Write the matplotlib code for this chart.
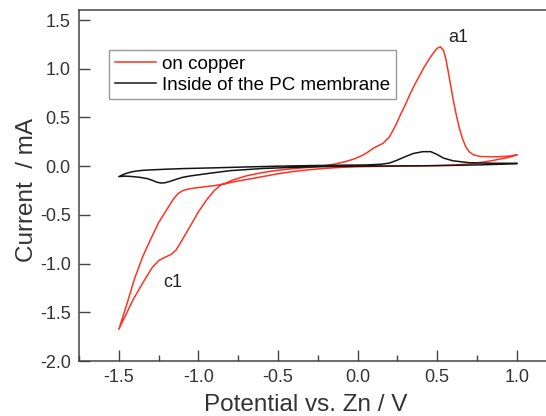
import matplotlib
matplotlib.use('Agg')
import matplotlib.pyplot as plt
from matplotlib.ticker import MultipleLocator

plt.rcParams['font.family'] = ['Liberation Sans', 'DejaVu Sans']
plt.rcParams['axes.unicode_minus'] = False

# on copper: cathodic sweep 1.0 -> -1.5, then anodic sweep -1.5 -> 1.0
copper_v = [1.00, 0.95, 0.90, 0.85, 0.80, 0.70, 0.60, 0.50, 0.40, 0.30, 0.20, 0.10,
            0.00, -0.10, -0.20, -0.30, -0.40, -0.50, -0.60, -0.70, -0.76, -0.83,
            -0.90, -0.97, -1.03, -1.07, -1.10, -1.13, -1.16, -1.20, -1.25, -1.30,
            -1.35, -1.40, -1.45, -1.50,
            -1.46, -1.41, -1.35, -1.29, -1.25, -1.21, -1.17, -1.14, -1.11, -1.06,
            -1.00, -0.95, -0.90, -0.86, -0.83, -0.78, -0.70, -0.60, -0.50, -0.40,
            -0.30, -0.22, -0.15, -0.08, -0.02, 0.03, 0.07, 0.10, 0.13, 0.16, 0.20,
            0.24, 0.27, 0.30, 0.33, 0.36, 0.39, 0.42, 0.45, 0.48, 0.50, 0.52, 0.54,
            0.555, 0.57, 0.585, 0.60, 0.62, 0.64, 0.66, 0.68, 0.70, 0.73, 0.77,
            0.82, 0.87, 0.92, 0.96, 1.00]
copper_i = [0.115, 0.090, 0.075, 0.058, 0.045, 0.022, 0.012, 0.006, 0.003, 0.001,
            -0.001, -0.003, -0.006, -0.012, -0.022, -0.036, -0.054, -0.078, -0.108,
            -0.138, -0.155, -0.18, -0.20, -0.213, -0.226, -0.237, -0.252, -0.285,
            -0.345, -0.45, -0.58, -0.75, -0.93, -1.15, -1.42, -1.675,
            -1.54, -1.37, -1.20, -1.04, -0.97, -0.935, -0.905, -0.86, -0.78, -0.64,
            -0.47, -0.35, -0.25, -0.195, -0.175, -0.14, -0.10, -0.066, -0.042,
            -0.025, -0.012, 0.0, 0.02, 0.045, 0.075, 0.11, 0.15, 0.185, 0.21, 0.235,
            0.30, 0.42, 0.53, 0.63, 0.74, 0.84, 0.93, 1.02, 1.10, 1.17, 1.21, 1.225,
            1.19, 1.10, 0.97, 0.83, 0.69, 0.53, 0.39, 0.28, 0.20, 0.15, 0.115, 0.10,
            0.097, 0.097, 0.10, 0.105, 0.115]

# inside of the PC membrane
pc_v = [1.00, 0.80, 0.60, 0.40, 0.20, 0.00, -0.20, -0.40, -0.60, -0.80, -0.93,
        -1.05, -1.10, -1.14, -1.18, -1.21, -1.235, -1.26, -1.29, -1.32, -1.37,
        -1.42, -1.46, -1.50,
        -1.475, -1.45, -1.42, -1.39, -1.35, -1.30, -1.20, -1.10, -0.90, -0.70,
        -0.50, -0.30, -0.10, 0.05, 0.15, 0.20, 0.25, 0.30, 0.35, 0.41, 0.46, 0.50,
        0.54, 0.60, 0.70, 0.85, 1.00]
pc_i = [0.025, 0.015, 0.008, 0.004, 0.002, 0.0, -0.004, -0.012, -0.024, -0.046,
        -0.073, -0.10, -0.115, -0.135, -0.157, -0.17, -0.173, -0.165, -0.145,
        -0.128, -0.114, -0.106, -0.102, -0.107,
        -0.088, -0.072, -0.059, -0.05, -0.043, -0.038, -0.031, -0.025, -0.017,
        -0.008, 0.0, 0.006, 0.01, 0.012, 0.02, 0.032, 0.062, 0.098, 0.13, 0.149,
        0.149, 0.12, 0.083, 0.055, 0.036, 0.03, 0.03]

x_ticks = [-1.5, -1.0, -0.5, 0.0, 0.5, 1.0]
y_ticks = [-2.0, -1.5, -1.0, -0.5, 0.0, 0.5, 1.0, 1.5]

fig = plt.figure(figsize=(5.46, 4.16), dpi=100)
ax = fig.add_axes([0.1447, 0.1322, 0.8745, 0.843])

ax.plot(copper_v, copper_i, color='#ff3322', lw=1.1, label='on copper')
ax.plot(pc_v, pc_i, color='#151515', lw=1.1, label='Inside of the PC membrane')

ax.set_xlim(-1.75, 1.25)
ax.set_ylim(-2.0, 1.6)
ax.set_xticks(x_ticks)
ax.set_yticks(y_ticks)
ax.xaxis.set_minor_locator(MultipleLocator(0.25))
ax.set_xticklabels([f'{t:.1f}' for t in x_ticks])
ax.set_yticklabels([f'{t:.1f}' for t in y_ticks])

ax.tick_params(which='major', direction='in', length=7.7, width=1, pad=6,
               labelsize=13, colors='#444444', labelcolor='#333333')
ax.tick_params(which='minor', direction='in', length=4.3, width=1, colors='#444444')
ax.tick_params(axis='y', which='minor', left=False)
for s in ax.spines.values():
    s.set_color('#444444')
    s.set_linewidth(1.1)

ax.set_xlabel('Potential vs. Zn / V', fontsize=17.5, color='#333333')
ax.set_ylabel('Current  / mA', fontsize=17.5, color='#333333')
ax.xaxis.set_label_coords(0.475, -0.095)
ax.yaxis.set_label_coords(-0.085, 0.489)

ax.text(0.63, 1.316, 'a1', fontsize=13, color='#222222', ha='center', va='center')
ax.text(-1.162, -1.196, 'c1', fontsize=13, color='#222222', ha='center', va='center')

leg = ax.legend(loc='upper left', bbox_to_anchor=(0.0628, 0.887), borderaxespad=0,
                fontsize=13.5, frameon=True, fancybox=False, handlelength=2.2,
                handletextpad=0.35, borderpad=0.3, labelspacing=0.2)
leg.get_frame().set_edgecolor('#808080')
leg.get_frame().set_linewidth(1.0)

fig.savefig('out.png', dpi=100)
